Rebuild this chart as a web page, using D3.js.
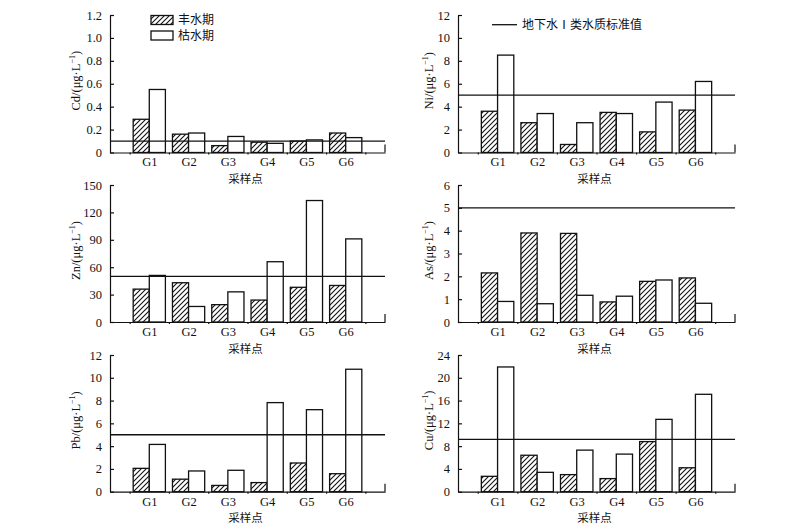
<!doctype html>
<head>
  <meta charset="utf-8">
  <script src="https://cdnjs.cloudflare.com/ajax/libs/d3/7.8.2/d3.min.js"></script>
</head>
<style>
    body { margin: 0; background: #fff; }
    text { fill: #111; }
    .num { font-family: "Liberation Serif", "DejaVu Serif", serif; font-size: 12.5px; }
    .cjk { font-family: "Noto Sans CJK SC", sans-serif; font-size: 12px; }
    .xt { font-size: 11.5px; }
    .axis path, .axis line { stroke: #111; stroke-width: 1.2; }
</style>
<body>
    <div id="chart"></div>
    <script>
        // Sampling sites and seasons
        const sites = ["G1", "G2", "G3", "G4", "G5", "G6"];
        const seasons = ["丰水期", "枯水期"];
        const xTitle = "采样点";
        const stdLabel = "地下水Ⅰ类水质标准值";

        // Concentrations (μg/L), wet season / dry season
        const cdWet = [0.29, 0.16, 0.06, 0.09, 0.10, 0.17];
        const cdDry = [0.55, 0.17, 0.14, 0.08, 0.11, 0.13];
        const niWet = [3.6, 2.6, 0.7, 3.5, 1.8, 3.7];
        const niDry = [8.5, 3.4, 2.6, 3.4, 4.4, 6.2];
        const znWet = [36, 43, 19, 24, 38, 40];
        const znDry = [51, 17, 33, 66, 133, 91];
        const asWet = [2.15, 3.9, 3.88, 0.88, 1.78, 1.93];
        const asDry = [0.9, 0.8, 1.17, 1.13, 1.84, 0.82];
        const pbWet = [2.05, 1.1, 0.55, 0.8, 2.52, 1.58];
        const pbDry = [4.15, 1.82, 1.88, 7.82, 7.2, 10.75];
        const cuWet = [2.7, 6.4, 3.0, 2.3, 8.8, 4.2];
        const cuDry = [21.9, 3.4, 7.3, 6.6, 12.7, 17.1];

        // Class I groundwater limits
        const cdLimit = 0.1, niLimit = 5, znLimit = 50, asLimit = 5, pbLimit = 5, cuLimit = 9.2;

        // Y tick labels
        const cdTicks = [0, 0.2, 0.4, 0.6, 0.8, 1.0, 1.2];
        const niTicks = [0, 2, 4, 6, 8, 10, 12];
        const znTicks = [0, 30, 60, 90, 120, 150];
        const asTicks = [0, 1, 2, 3, 4, 5, 6];
        const pbTicks = [0, 2, 4, 6, 8, 10, 12];
        const cuTicks = [0, 4, 8, 12, 16, 20, 24];

        const panels = [
            {name: "Cd", wet: cdWet, dry: cdDry, limit: cdLimit, ticks: cdTicks, col: 0, row: 0, dec: 1},
            {name: "Ni", wet: niWet, dry: niDry, limit: niLimit, ticks: niTicks, col: 1, row: 0, dec: 0},
            {name: "Zn", wet: znWet, dry: znDry, limit: znLimit, ticks: znTicks, col: 0, row: 1, dec: 0},
            {name: "As", wet: asWet, dry: asDry, limit: asLimit, ticks: asTicks, col: 1, row: 1, dec: 0},
            {name: "Pb", wet: pbWet, dry: pbDry, limit: pbLimit, ticks: pbTicks, col: 0, row: 2, dec: 0},
            {name: "Cu", wet: cuWet, dry: cuDry, limit: cuLimit, ticks: cuTicks, col: 1, row: 2, dec: 0},
        ];

        // layout
        const cols = [[110, 385], [458, 735]];
        const rows = [[15, 152.5], [185, 322], [355, 491.7]];
        const labelX = [80, 433];
        const barW = 0.41;

        const svg = d3.select('#chart').append('svg')
            .attr('width', 800).attr('height', 527);

        const defs = svg.append('defs');
        defs.append('pattern')
            .attr('id', 'hatch')
            .attr('patternUnits', 'userSpaceOnUse')
            .attr('width', 5).attr('height', 5)
            .append('path')
            .attr('d', 'M-1,1 l2,-2 M0,5 l5,-5 M4,6 l2,-2')
            .attr('stroke', '#111').attr('stroke-width', 1.1);

        panels.forEach((p) => {
            const [x0, x1] = cols[p.col];
            const [y0, y1] = rows[p.row];
            const x = d3.scaleLinear().domain([0, sites.length + 1]).range([x0, x1]);
            const y = d3.scaleLinear().domain([0, d3.max(p.ticks)]).range([y1, y0]);
            const g = svg.append('g');
            const fmt = (d) => d === 0 ? '0' : d3.format(`.${p.dec}f`)(d);

            // bars
            const bars = sites.map((s, i) => [
                {i, v: p.wet[i], off: -barW, fill: 'url(#hatch)'},
                {i, v: p.dry[i], off: 0, fill: '#fff'},
            ]).flat();
            g.selectAll('.bar').data(bars).enter().append('rect')
                .attr('x', (d) => x(d.i + 1 + d.off))
                .attr('width', x(barW) - x(0))
                .attr('y', (d) => y(d.v))
                .attr('height', (d) => y(0) - y(d.v))
                .attr('fill', (d) => d.fill)
                .attr('stroke', '#111').attr('stroke-width', 1.3);

            // limit line
            g.append('line')
                .attr('x1', x0).attr('x2', x1)
                .attr('y1', y(p.limit)).attr('y2', y(p.limit))
                .attr('stroke', '#111').attr('stroke-width', 1.3);

            // y axis, ticks pointing inward
            const ya = g.append('g').attr('class', 'axis num')
                .attr('transform', `translate(${x0},0)`)
                .call(d3.axisLeft(y).tickValues(p.ticks).tickFormat(fmt).tickSizeInner(-4).tickSizeOuter(0).tickPadding(8));
            ya.selectAll('text').attr('class', 'num').attr('fill', '#111').attr('font-size', null).attr('font-family', null);

            // x axis with small boundary ticks
            g.append('g').attr('class', 'axis')
                .attr('transform', `translate(0,${y1})`)
                .call(d3.axisBottom(x).tickValues(d3.range(0.5, sites.length + 1, 1)).tickFormat('').tickSizeInner(2).tickSizeOuter(0));
            const xl = g.append('g').attr('class', 'axis num')
                .attr('transform', `translate(0,${y1})`)
                .call(d3.axisBottom(x).tickValues(d3.range(1, sites.length + 1)).tickFormat((d) => sites[d - 1]).tickSize(0).tickPadding(5));
            xl.select('.domain').remove();
            xl.selectAll('text').attr('class', 'num').attr('fill', '#111').attr('font-size', null).attr('font-family', null);

            // end stub on the right
            g.append('line')
                .attr('x1', x1).attr('x2', x1).attr('y1', y1).attr('y2', y1 - 8)
                .attr('stroke', '#111').attr('stroke-width', 1.2);

            // axis titles
            g.append('text').attr('class', 'cjk xt')
                .attr('x', (x0 + x1) / 2 - 2).attr('y', y1 + 30.5)
                .attr('text-anchor', 'middle').text(xTitle);

            const yt = g.append('text').attr('class', 'num')
                .attr('transform', `translate(${labelX[p.col]},${(y0 + y1) / 2 - 3}) rotate(-90)`)
                .attr('text-anchor', 'middle');
            yt.append('tspan').text(`${p.name}/(μg·L`);
            yt.append('tspan').attr('font-size', '8px').attr('dy', -5).text('−1');
            yt.append('tspan').attr('dy', 5).text(')');
        });

        // legend: seasons (top-left panel)
        seasons.forEach((s, i) => {
            const ly = 15.5 + i * 15.5;
            svg.append('rect')
                .attr('x', 151).attr('y', ly).attr('width', 22).attr('height', 9)
                .attr('fill', i === 0 ? 'url(#hatch)' : '#fff')
                .attr('stroke', '#111').attr('stroke-width', 1.3);
            svg.append('text').attr('class', 'cjk')
                .attr('x', 178).attr('y', ly + 4.5).attr('dy', '0.35em').text(s);
        });

        // legend: limit line (top-right panel)
        svg.append('line')
            .attr('x1', 492).attr('x2', 517).attr('y1', 24.7).attr('y2', 24.7)
            .attr('stroke', '#111').attr('stroke-width', 1.3);
        svg.append('text').attr('class', 'cjk')
            .attr('x', 522).attr('y', 24.7).attr('dy', '0.35em').text(stdLabel);
    </script>
</body>
